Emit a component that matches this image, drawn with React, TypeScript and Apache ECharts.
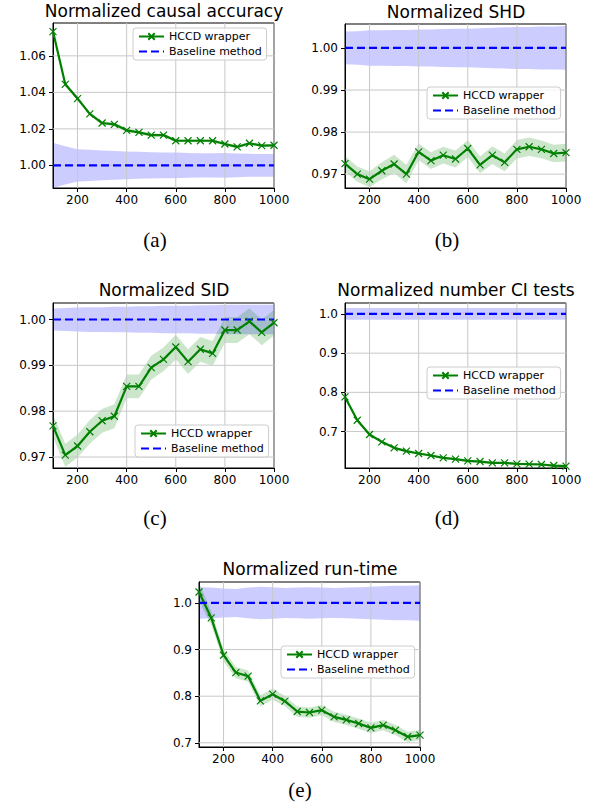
import React, { useEffect, useRef } from "react";
import * as echarts from "echarts";

// ---------- data ----------
const XS = [100, 150, 200, 250, 300, 350, 400, 450, 500, 550, 600, 650, 700, 750, 800, 850, 900, 950, 1000];
const X_TICKS = [200, 400, 600, 800, 1000];
const BASELINE = [1, 1, 1, 1, 1, 1, 1, 1, 1, 1, 1, 1, 1, 1, 1, 1, 1, 1, 1];

// (a) Normalized causal accuracy
const accHccd = [1.0733, 1.0444, 1.0366, 1.0282, 1.0232, 1.0225, 1.0192, 1.0181, 1.0166, 1.0166, 1.0135, 1.0135, 1.0135, 1.0135, 1.0117, 1.0101, 1.0121, 1.0108, 1.011];
const accHccdErr = [0.0012, 0.0012, 0.0011, 0.001, 0.001, 0.001, 0.0009, 0.0009, 0.0009, 0.0009, 0.0008, 0.0008, 0.0008, 0.0008, 0.0008, 0.0008, 0.0008, 0.0007, 0.0007];
const accBaseErr = [0.0124, 0.0105, 0.0088, 0.0085, 0.0082, 0.0079, 0.0076, 0.0074, 0.0072, 0.0071, 0.007, 0.0068, 0.0067, 0.0066, 0.0068, 0.0065, 0.0063, 0.0062, 0.0062];
const accYTicks = [1.0, 1.02, 1.04, 1.06];

// (b) Normalized SHD
const shdHccd = [0.9725, 0.97, 0.9688, 0.9708, 0.9724, 0.97, 0.9753, 0.9732, 0.9745, 0.9736, 0.9761, 0.9722, 0.9745, 0.9728, 0.9759, 0.9765, 0.9759, 0.9749, 0.9751];
const shdHccdErr = [0.0018, 0.0018, 0.0019, 0.002, 0.0022, 0.0022, 0.002, 0.002, 0.002, 0.002, 0.002, 0.002, 0.0021, 0.0021, 0.0022, 0.0022, 0.0021, 0.0021, 0.0021];
const shdBaseErr = [0.0039, 0.004, 0.0042, 0.0042, 0.0043, 0.0043, 0.0044, 0.0044, 0.0045, 0.0046, 0.0046, 0.0047, 0.0048, 0.0049, 0.005, 0.005, 0.0051, 0.0051, 0.0052];
const shdYTicks = [0.97, 0.98, 0.99, 1.0];

// (c) Normalized SID
const sidHccd = [0.9768, 0.9704, 0.9724, 0.9755, 0.9779, 0.9789, 0.9854, 0.9854, 0.9895, 0.9913, 0.994, 0.9908, 0.9935, 0.9926, 0.9977, 0.9977, 0.9996, 0.9972, 0.9993];
const sidHccdErr = [0.0025, 0.0025, 0.0025, 0.0026, 0.0026, 0.0026, 0.0026, 0.0026, 0.0026, 0.0026, 0.0027, 0.0027, 0.0027, 0.0027, 0.0028, 0.0028, 0.0028, 0.0028, 0.0028];
const sidBaseErr = [0.0024, 0.0025, 0.0026, 0.0027, 0.0027, 0.0028, 0.0028, 0.0029, 0.0029, 0.003, 0.003, 0.003, 0.0031, 0.0031, 0.0032, 0.0032, 0.0032, 0.0032, 0.0032];
const sidYTicks = [0.97, 0.98, 0.99, 1.0];

// (d) Normalized number CI tests
const ciHccd = [0.7884, 0.7289, 0.6924, 0.6737, 0.6584, 0.6499, 0.6439, 0.6388, 0.6329, 0.6295, 0.6252, 0.6235, 0.6201, 0.6201, 0.6176, 0.6167, 0.6159, 0.6133, 0.6116];
const ciHccdErr = [0.004, 0.004, 0.0035, 0.003, 0.003, 0.003, 0.003, 0.003, 0.003, 0.003, 0.003, 0.003, 0.003, 0.003, 0.003, 0.003, 0.003, 0.003, 0.003];
const ciBaseErr = [0.015, 0.015, 0.015, 0.015, 0.015, 0.015, 0.015, 0.015, 0.015, 0.015, 0.015, 0.015, 0.015, 0.015, 0.015, 0.015, 0.015, 0.015, 0.015];
const ciYTicks = [0.7, 0.8, 0.9, 1.0];

// (e) Normalized run-time
const rtHccd = [1.0236, 0.9679, 0.8879, 0.8507, 0.8429, 0.79, 0.8043, 0.7893, 0.7671, 0.765, 0.77, 0.7557, 0.7493, 0.7414, 0.7321, 0.7379, 0.7271, 0.7129, 0.7164];
const rtHccdErr = [0.02, 0.015, 0.013, 0.012, 0.012, 0.012, 0.012, 0.011, 0.011, 0.011, 0.011, 0.011, 0.011, 0.011, 0.011, 0.011, 0.011, 0.011, 0.011];
const rtBaseErr = [0.034, 0.033, 0.031, 0.03, 0.033, 0.035, 0.034, 0.032, 0.033, 0.034, 0.033, 0.032, 0.033, 0.034, 0.035, 0.036, 0.037, 0.037, 0.038];
const rtYTicks = [0.7, 0.8, 0.9, 1.0];

const TITLES = ["Normalized causal accuracy", "Normalized SHD", "Normalized SID", "Normalized number CI tests", "Normalized run-time"];
const CAPTIONS = ["(a)", "(b)", "(c)", "(d)", "(e)"];
const LEGEND_NAMES = ["HCCD wrapper", "Baseline method"];

// ---------- layout / style ----------
const PANELS = [
  { hccd: accHccd, hErr: accHccdErr, bErr: accBaseErr, yTicks: accYTicks, yMin: 0.9876, yMax: 1.078, dec: 2,
    grid: { left: 53, top: 23, width: 221, height: 165 }, title: [164, 11], caption: [155, 240], legend: [133, 28] },
  { hccd: shdHccd, hErr: shdHccdErr, bErr: shdBaseErr, yTicks: shdYTicks, yMin: 0.9667, yMax: 1.0057, dec: 2,
    grid: { left: 345, top: 24, width: 221, height: 164 }, title: [456, 12], caption: [447, 240], legend: [427, 87] },
  { hccd: sidHccd, hErr: sidHccdErr, bErr: sidBaseErr, yTicks: sidYTicks, yMin: 0.9676, yMax: 1.0036, dec: 2,
    grid: { left: 53, top: 303, width: 221, height: 165 }, title: [164, 290], caption: [155, 518], legend: [135, 425] },
  { hccd: ciHccd, hErr: ciHccdErr, bErr: ciBaseErr, yTicks: ciYTicks, yMin: 0.607, yMax: 1.028, dec: 1,
    grid: { left: 345, top: 303, width: 221, height: 165 }, title: [456, 290], caption: [447, 518], legend: [427, 367] },
  { hccd: rtHccd, hErr: rtHccdErr, bErr: rtBaseErr, yTicks: rtYTicks, yMin: 0.691, yMax: 1.045, dec: 1,
    grid: { left: 199, top: 582, width: 221, height: 165 }, title: [310, 569], caption: [300, 790], legend: [281, 646] },
];

const FONT = "DejaVu Sans";
const X_SYMBOL = "path://M0,0L10,10M10,0L0,10";
const GRID_COLOR = "#c8c8c8";

function bandSeries(i: number, center: number[], err: number[], fill: string) {
  return {
    type: "custom",
    xAxisIndex: i,
    yAxisIndex: i,
    silent: true,
    clip: true,
    name: `band${i}_${fill}`,
    data: [[XS[0], center[0]]],
    encode: { x: 0, y: 1 },
    renderItem: (params: any, api: any) => {
      if (params.dataIndex !== 0) return null;
      const upper = XS.map((x, k) => api.coord([x, center[k] + err[k]]));
      const lower = XS.map((x, k) => api.coord([x, center[k] - err[k]])).reverse();
      return { type: "polygon", shape: { points: upper.concat(lower) }, style: { fill, stroke: "none" } };
    },
  };
}

// grid lines at the tick values, placed through the library's own axes
function gridLineSeries(i: number, yMin: number, yMax: number, yTicks: number[]) {
  return {
    type: "custom",
    xAxisIndex: i,
    yAxisIndex: i,
    silent: true,
    name: `grid${i}`,
    data: [[X_TICKS[0], yTicks[0]]],
    encode: { x: 0, y: 1 },
    renderItem: (params: any, api: any) => {
      if (params.dataIndex !== 0) return null;
      const children: any[] = [];
      X_TICKS.forEach((x) => {
        const a = api.coord([x, yMin]);
        const b = api.coord([x, yMax]);
        children.push({ type: "line", shape: { x1: a[0], y1: a[1], x2: b[0], y2: b[1] }, style: { stroke: GRID_COLOR, lineWidth: 1 } });
      });
      yTicks.forEach((y) => {
        const a = api.coord([100, y]);
        const b = api.coord([1000, y]);
        children.push({ type: "line", shape: { x1: a[0], y1: a[1], x2: b[0], y2: b[1] }, style: { stroke: GRID_COLOR, lineWidth: 1 } });
      });
      return { type: "group", children };
    },
  };
}

function buildOption() {
  const grid: any[] = [];
  const xAxis: any[] = [];
  const yAxis: any[] = [];
  const series: any[] = [];
  const legend: any[] = [];
  const graphic: any[] = [];

  PANELS.forEach((p, i) => {
    grid.push({ ...p.grid, show: true, borderColor: "#000", borderWidth: 1, backgroundColor: "transparent", containLabel: false });
    xAxis.push({
      type: "value", gridIndex: i, min: 100, max: 1000,
      axisLine: { show: true, onZero: false, lineStyle: { color: "#000", width: 1 } },
      axisTick: { show: true, inside: false, length: 4, customValues: X_TICKS, lineStyle: { color: "#000" } },
      axisLabel: { show: true, customValues: X_TICKS, margin: 6, fontSize: 12, fontFamily: FONT, color: "#000",
        formatter: (v: number) => String(v) },
      splitLine: { show: false },
    });
    yAxis.push({
      type: "value", gridIndex: i, min: p.yMin, max: p.yMax,
      axisLine: { show: true, onZero: false, lineStyle: { color: "#000", width: 1 } },
      axisTick: { show: true, inside: false, length: 4, customValues: p.yTicks, lineStyle: { color: "#000" } },
      axisLabel: { show: true, customValues: p.yTicks, margin: 7, fontSize: 12, fontFamily: FONT, color: "#000",
        formatter: (v: number) => v.toFixed(p.dec) },
      splitLine: { show: false },
    });

    series.push(bandSeries(i, BASELINE, p.bErr, "rgba(0,0,255,0.2)"));
    series.push(bandSeries(i, p.hccd, p.hErr, "rgba(0,128,0,0.2)"));
    series.push(gridLineSeries(i, p.yMin, p.yMax, p.yTicks));
    series.push({
      xAxisIndex: i, yAxisIndex: i, type: "line", name: LEGEND_NAMES[0],
      data: XS.map((x, k) => [x, p.hccd[k]]),
      symbol: X_SYMBOL, symbolSize: 7, showSymbol: true,
      lineStyle: { color: "#008000", width: 2.2 },
      itemStyle: { color: "#008000", borderColor: "#008000", borderWidth: 1.2 },
    });
    series.push({
      xAxisIndex: i, yAxisIndex: i, type: "line", name: LEGEND_NAMES[1],
      data: XS.map((x, k) => [x, BASELINE[k]]),
      symbol: "none", showSymbol: false,
      lineStyle: { color: "#0000ff", width: 2.2, type: [8, 4] },
      itemStyle: { color: "rgba(0,0,0,0)", borderWidth: 0, opacity: 0 },
    });

    legend.push({
      data: [LEGEND_NAMES[0], { name: LEGEND_NAMES[1], itemStyle: { opacity: 0 } }],
      orient: "vertical", left: p.legend[0], top: p.legend[1],
      itemWidth: 25, itemHeight: 8, itemGap: 4, padding: [3, 5],
      textStyle: { fontSize: 11, fontFamily: FONT, color: "#000" },
      borderColor: "#cccccc", borderWidth: 1, borderRadius: 3, backgroundColor: "rgba(255,255,255,0.8)",
      selectedMode: false,
    });

    graphic.push({
      type: "text", x: p.title[0], y: p.title[1],
      style: { text: TITLES[i], font: `17px '${FONT}'`, fill: "#000", textAlign: "center", textVerticalAlign: "middle" },
    });
    graphic.push({
      type: "text", x: p.caption[0], y: p.caption[1],
      style: { text: CAPTIONS[i], font: "21px 'Liberation Serif'", fill: "#000", textAlign: "center", textVerticalAlign: "middle" },
    });
  });

  return {
    animation: false,
    backgroundColor: "#fff",
    textStyle: { fontFamily: FONT },
    grid, xAxis, yAxis, series, legend, graphic,
  };
}

export default function App() {
  const ref = useRef<HTMLDivElement>(null);
  useEffect(() => {
    if (!ref.current) return;
    const chart = echarts.init(ref.current, null, { renderer: "svg" });
    chart.setOption(buildOption());
    return () => chart.dispose();
  }, []);
  return <div ref={ref} style={{ position: "absolute", left: 0, top: 0, width: 592, height: 812 }} />;
}
